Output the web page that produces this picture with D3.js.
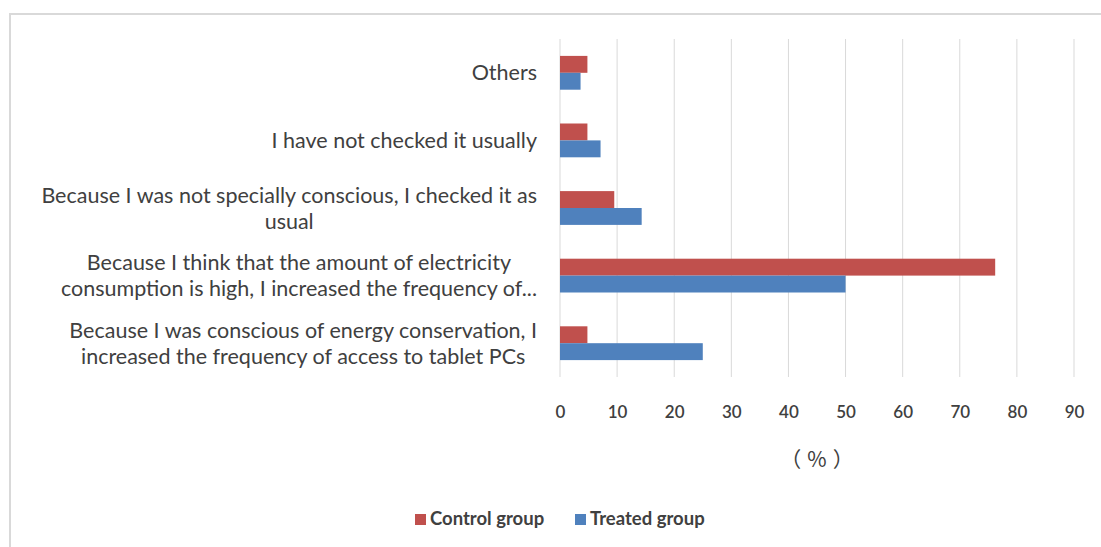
<!DOCTYPE html>
<html>
<head>
<meta charset="utf-8">
<script src="https://cdn.jsdelivr.net/npm/d3@7"></script>
<style>
  html, body { margin: 0; padding: 0; background: #ffffff; }
  svg { display: block; }
  text { font-family: Lato, "Open Sans", sans-serif; fill: #404040; }
</style>
</head>
<body>
<svg id="chart" width="1101" height="547"></svg>
<script>
// Reasons given, listed top to bottom; each entry holds the wrapped label lines
const categories = [
  "Others",
  "I have not checked it usually",
  "Because I was not specially conscious, I checked it as usual",
  "Because I think that the amount of electricity consumption is high, I increased the frequency of...",
  "Because I was conscious of energy conservation, I increased the frequency of access to tablet PCs"
];
const labelLines = [
  ["Others"],
  ["I have not checked it usually"],
  ["Because I was not specially conscious, I checked it as", "usual"],
  ["Because I think that the amount of electricity", "consumption is high, I increased the frequency of..."],
  ["Because I was conscious of energy conservation, I", "increased the frequency of access to tablet PCs"]
];
const seriesNames = ["Control group", "Treated group"];
const controlValues = [4.8, 4.8, 9.5, 76.2, 4.8];
const treatedValues = [3.6, 7.1, 14.3, 50.0, 25.0];
const xTicks = [0, 10, 20, 30, 40, 50, 60, 70, 80, 90];
const axisTitle = "（%）";

const colors = { "Control group": "#C0504D", "Treated group": "#4F81BD" };

const svg = d3.select("#chart");

// outer chart frame (continues past the right and bottom edges)
svg.append("rect")
  .attr("x", 10).attr("y", 14)
  .attr("width", 1120).attr("height", 560)
  .attr("fill", "none").attr("stroke", "#d9d9d9").attr("stroke-width", 2);

const plot = { left: 560, right: 1074, top: 39, bottom: 377 };

const x = d3.scaleLinear().domain([0, 90]).range([plot.left, plot.right]);
const y = d3.scaleBand().domain(categories).range([plot.top, plot.bottom])
  .paddingInner(0.5).paddingOuter(0.25);
const ySeries = d3.scaleBand().domain(seriesNames).range([0, y.bandwidth()]);

// vertical gridlines
svg.append("g").selectAll("line").data(xTicks).join("line")
  .attr("x1", d => x(d)).attr("x2", d => x(d))
  .attr("y1", plot.top).attr("y2", plot.bottom)
  .attr("stroke", "#d9d9d9").attr("stroke-width", 1);

// bars
const rows = categories.map((c, i) => ({
  cat: c,
  values: [
    { s: "Control group", v: controlValues[i] },
    { s: "Treated group", v: treatedValues[i] }
  ]
}));

const groups = svg.append("g").selectAll("g").data(rows).join("g")
  .attr("transform", d => `translate(0,${y(d.cat)})`);
groups.selectAll("rect").data(d => d.values).join("rect")
  .attr("x", x(0))
  .attr("y", d => ySeries(d.s))
  .attr("width", d => x(d.v) - x(0))
  .attr("height", ySeries.bandwidth())
  .attr("fill", d => colors[d.s]);

// x axis tick labels
const xAxis = d3.axisBottom(x).tickValues(xTicks).tickSize(0).tickPadding(0).tickFormat(d3.format("d"));
const gx = svg.append("g").attr("transform", `translate(0,${plot.bottom + 35})`).call(xAxis);
gx.select(".domain").remove();
gx.selectAll("text")
  .attr("dy", "0.35em").attr("y", 0)
  .style("font-size", "17px").style("font-weight", "600")
  .style("font-family", "Lato, sans-serif").attr("fill", "#404040");

// axis title
svg.append("text")
  .attr("x", (plot.left + plot.right) / 2 + 3).attr("y", 460)
  .attr("dy", "0.35em").attr("text-anchor", "middle")
  .style("font-size", "21px").style("letter-spacing", "6px")
  .style("font-family", "'Noto Sans CJK SC', 'Noto Sans CJK JP', sans-serif")
  .text(axisTitle);

// category labels, each block right-aligned with centred lines
const labelRight = 537;
const lineGap = 26;
const labelG = svg.append("g");
categories.forEach((c, i) => {
  const lines = labelLines[i];
  const cy = y(c) + y.bandwidth() / 2;
  const t = labelG.append("text").style("font-size", "21.5px");
  const spans = t.selectAll("tspan").data(lines).join("tspan")
    .attr("y", (d, k) => cy + (k - (lines.length - 1) / 2) * lineGap)
    .attr("dy", "0.35em")
    .text(d => d);
  const widths = spans.nodes().map(n => n.getComputedTextLength());
  const maxW = d3.max(widths);
  const center = labelRight - maxW / 2;
  spans.attr("x", center).attr("text-anchor", "middle");
});

// legend
const legend = svg.append("g");
const legendItems = [
  { name: "Control group", x: 415 },
  { name: "Treated group", x: 575 }
];
legendItems.forEach(it => {
  legend.append("rect")
    .attr("x", it.x).attr("y", 514).attr("width", 11).attr("height", 11)
    .attr("fill", colors[it.name]);
  legend.append("text")
    .attr("x", it.x + 15).attr("y", 519).attr("dy", "0.35em")
    .style("font-size", "18.5px").style("font-weight", "bold")
    .text(it.name);
});
</script>
</body>
</html>
